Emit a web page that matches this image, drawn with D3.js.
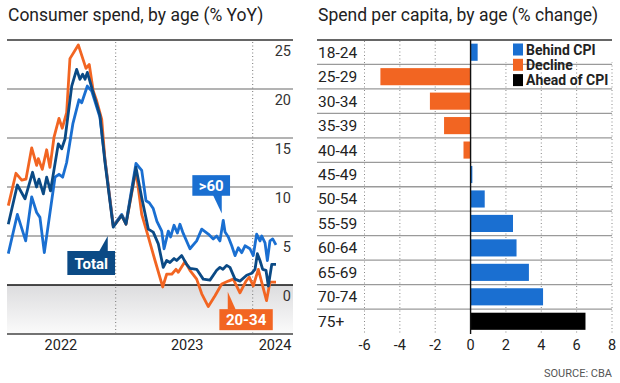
<!DOCTYPE html>
<html><head><meta charset="utf-8">
<script src="https://cdn.jsdelivr.net/npm/d3@7"></script>
<style>body{margin:0;background:#fff}svg{display:block}text{font-family:Roboto,"Noto Sans",sans-serif}</style>
</head><body><svg id="c" width="620" height="383"></svg>
<script>
// ---------- LEFT CHART DATA (time in decimal years, % YoY) ----------
const olderT = [2022.216,2022.282,2022.343,2022.387,2022.423,2022.447,2022.479,2022.557,2022.586,2022.613,2022.642,2022.688,2022.732,2022.752,2022.793,2022.825,2022.885,2022.922,2022.982,2023.007,2023.044,2023.075,2023.148,2023.190,2023.221,2023.245,2023.274,2023.301,2023.336,2023.353,2023.384,2023.401,2023.426,2023.450,2023.469,2023.489,2023.542,2023.591,2023.628,2023.676,2023.712,2023.737,2023.761,2023.785,2023.798,2023.822,2023.847,2023.871,2023.895,2023.920,2023.944,2023.980,2024.004,2024.029,2024.053,2024.066,2024.090,2024.107,2024.126,2024.146,2024.170];
const olderV = [3.2,7.2,4.5,9.0,7.4,6.9,3.3,11.0,11.3,11.0,12.5,16.5,18.9,18.6,20.3,19.8,17.1,12.8,6.1,6.5,7.2,6.3,12.4,11.7,8.6,8.4,7.8,6.5,5.5,3.7,5.5,4.9,6.1,5.3,6.2,5.4,3.7,4.5,5.7,5.2,4.7,5.0,4.5,6.6,5.4,4.9,4.0,3.0,3.8,3.3,4.0,3.7,3.0,5.2,4.5,5.0,4.3,2.5,4.5,4.7,4.1];

const youngT = [2022.216,2022.272,2022.314,2022.345,2022.387,2022.423,2022.435,2022.464,2022.496,2022.520,2022.550,2022.586,2022.610,2022.642,2022.666,2022.727,2022.783,2022.807,2022.836,2022.861,2022.898,2022.922,2022.982,2023.007,2023.044,2023.075,2023.148,2023.190,2023.238,2023.287,2023.343,2023.372,2023.409,2023.440,2023.457,2023.506,2023.542,2023.591,2023.628,2023.676,2023.725,2023.774,2023.822,2023.858,2023.907,2023.951,2023.975,2024.004,2024.041,2024.101,2024.126,2024.170];
const youngV = [8.1,11.4,10.7,10.8,14.0,12.2,12.9,11.8,13.8,12.0,15.1,17.0,16.0,17.6,23.1,24.5,22.1,22.5,19.8,18.8,16.9,12.7,6.0,6.4,7.1,6.2,11.7,7.2,4.9,2.5,-0.2,1.1,1.1,1.6,1.3,2.4,1.5,0.6,-0.9,-2.2,-1.1,0.1,0.4,0.6,-0.8,0.4,0.8,-0.1,1.6,-1.6,0.3,0.3];

const totalT = [2022.216,2022.282,2022.338,2022.393,2022.422,2022.440,2022.472,2022.496,2022.524,2022.581,2022.606,2022.630,2022.679,2022.715,2022.739,2022.759,2022.776,2022.793,2022.832,2022.885,2022.922,2022.982,2023.007,2023.044,2023.075,2023.148,2023.190,2023.238,2023.274,2023.311,2023.347,2023.372,2023.396,2023.426,2023.445,2023.482,2023.518,2023.542,2023.591,2023.639,2023.688,2023.737,2023.761,2023.783,2023.810,2023.834,2023.871,2023.907,2023.956,2023.993,2024.017,2024.034,2024.053,2024.073,2024.097,2024.114,2024.139,2024.170];
const totalV = [6.2,10.2,8.8,11.5,10.0,10.8,9.3,11.0,9.6,14.4,13.9,14.9,20.3,22.0,21.0,21.5,21.0,21.7,19.8,17.3,12.5,5.9,6.4,7.1,6.2,12.0,8.9,5.7,5.4,4.2,1.8,2.5,2.3,2.7,2.5,3.0,2.1,1.7,1.6,0.6,0.5,1.5,1.8,1.6,2.0,1.8,0.6,0.4,1.0,1.2,1.6,3.2,2.5,1.6,1.5,-0.1,2.1,2.1];

const yTicks = [0,5,10,15,20,25];
const yearBreaks = [2023,2024];
const yearLabels = ["2022","2023","2024"];
const seriesNames = [">60","Total","20-34"];

// ---------- RIGHT CHART DATA ----------
const ageGroups = ["18-24","25-29","30-34","35-39","40-44","45-49","50-54","55-59","60-64","65-69","70-74","75+"];
const perCapita = [0.4,-5.1,-2.3,-1.5,-0.4,0.1,0.8,2.4,2.6,3.3,4.1,6.5];
const status = ["Behind CPI","Decline","Decline","Decline","Decline","Behind CPI","Behind CPI","Behind CPI","Behind CPI","Behind CPI","Behind CPI","Ahead of CPI"];
const legendKeys = ["Behind CPI","Decline","Ahead of CPI"];
const xTicks = [-6,-4,-2,0,2,4,6,8];

// ---------- STYLE ----------
const C_BLUE = "#1a6fd1", C_NAVY = "#0b4a85", C_ORANGE = "#f26522", C_BLACK = "#000";
const statusColor = d3.scaleOrdinal().domain(legendKeys).range([C_BLUE, C_ORANGE, C_BLACK]);

const svg = d3.select("#c");
const defs = svg.append("defs");
const grad = defs.append("linearGradient").attr("id","neg").attr("x1",0).attr("x2",0).attr("y1",0).attr("y2",1);
grad.append("stop").attr("offset","0%").attr("stop-color","#dcdcde");
grad.append("stop").attr("offset","100%").attr("stop-color","#fbfbfb");

// titles
svg.append("text").attr("x",8).attr("y",21).attr("font-size",17.5).attr("fill","#222").text("Consumer spend, by age (% YoY)");
svg.append("text").attr("x",318).attr("y",21).attr("font-size",17.5).attr("fill","#222").text("Spend per capita, by age (% change)");

// ---------- LEFT CHART ----------
const LX0 = 7, LX1 = 293;
const x = d3.scaleLinear().domain([2022.2, 2024.28]).range([6.1, 291.06]);
const y = d3.scaleLinear().domain([-5, 25]).range([334, 40]);
const gL = svg.append("g");

gL.append("rect").attr("x",LX0).attr("width",LX1-LX0).attr("y",y(0)).attr("height",y(-5)-y(0)).attr("fill","url(#neg)");

yTicks.forEach(v => {
  const top = v === 25, zero = v === 0;
  gL.append("line").attr("x1",LX0).attr("x2",LX1).attr("y1",y(v)).attr("y2",y(v))
    .attr("stroke", zero ? "#111" : top ? "#666" : "#9a9a9a")
    .attr("stroke-width", top ? 2 : zero ? 1.4 : 1.3);
  gL.append("text").attr("x",291).attr("y",y(v)+16).attr("text-anchor","end")
    .attr("font-size",14.5).attr("fill","#333").text(v);
});
gL.append("line").attr("x1",LX0).attr("x2",LX1).attr("y1",y(-5)).attr("y2",y(-5)).attr("stroke","#444").attr("stroke-width",1.6);

yearBreaks.forEach(t => {
  gL.append("line").attr("x1",x(t)).attr("x2",x(t)).attr("y1",y(25)+2).attr("y2",y(-5))
    .attr("stroke","#777").attr("stroke-width",1).attr("stroke-dasharray","1,2.5");
});
const dom = x.domain();
const bounds = [dom[0], ...yearBreaks, dom[1]];
yearLabels.forEach((lab,i) => {
  let cx = x((bounds[i]+bounds[i+1])/2);
  if (i === 1) cx += 3;
  if (i === yearLabels.length-1) cx = Math.min(cx + 4, 292 - 17);
  gL.append("text").attr("x",cx).attr("y",350).attr("text-anchor","middle")
    .attr("font-size",14.5).attr("fill","#222").text(lab);
});

const line = d3.line().x(d=>x(d[0])).y(d=>y(d[1]));
const series = [
  {t: olderT, v: olderV, c: C_BLUE},
  {t: youngT, v: youngV, c: C_ORANGE},
  {t: totalT, v: totalV, c: C_NAVY}
];
series.forEach(s => {
  gL.append("path").datum(d3.zip(s.t, s.v)).attr("d", line).attr("fill","none")
    .attr("stroke", s.c).attr("stroke-width",2.8).attr("stroke-linejoin","round");
});

// annotation callouts anchored at data positions
function callout(name, t, v, color, box, tri, tx, ty) {
  const px = x(t), py = y(v);
  const g = gL.append("g").attr("transform",`translate(${px},${py})`);
  g.append("path").attr("d", d3.line()(tri)).attr("fill", color);
  g.append("rect").attr("x",box[0]).attr("y",box[1]).attr("width",box[2]).attr("height",box[3]).attr("fill",color);
  g.append("text").attr("x",tx).attr("y",ty).attr("text-anchor","middle").attr("font-size",15)
    .attr("font-weight","bold").attr("fill","#fff").text(name);
}
callout(seriesNames[0], 2023.774, 7.3, C_BLUE, [-29.4,-38.3,37.7,20.6], [[0,0],[-9,-19],[0,-19]], -10.5, -22.5);
callout(seriesNames[1], 2022.942, 5.0, C_NAVY, [-40.4,15,47.7,24], [[0,0],[0,16],[-9,16]], -16.5, 32.5);
callout(seriesNames[2], 2023.818, -0.7, C_ORANGE, [-8.4,17.3,53.4,21], [[0,0],[0,18],[8,18]], 18.3, 33.3);

// ---------- RIGHT CHART ----------
const RX0 = 317, RX1 = 612;
const xr = d3.scaleLinear().domain([-6, 8]).range([364.5, 612]);
const rows = d3.scaleBand().domain(ageGroups).range([40, 333.5]).padding(0);
const bars = d3.scaleBand().domain(ageGroups).range([40, 333.5]).paddingInner(0.3).paddingOuter(0.15);
const gR = svg.append("g");

xTicks.forEach(v => {
  if (v === 0) return;
  gR.append("line").attr("x1",xr(v)).attr("x2",xr(v)).attr("y1",41).attr("y2",335)
    .attr("stroke","#888").attr("stroke-width",1).attr("stroke-dasharray","1,2.5");
});
ageGroups.forEach((a,i) => {
  if (i === 0) return;
  gR.append("line").attr("x1",RX0).attr("x2",RX1).attr("y1",rows(a)).attr("y2",rows(a))
    .attr("stroke","#9a9a9a").attr("stroke-width",1.3);
});
gR.append("line").attr("x1",RX0).attr("x2",RX1).attr("y1",40).attr("y2",40).attr("stroke","#666").attr("stroke-width",2);

// legend backdrop
gR.append("rect").attr("x",xr(0)+1.5).attr("y",41).attr("width",RX1-xr(0)).attr("height",rows(ageGroups[1])-43).attr("fill","#fff");
const leg = gR.append("g");
legendKeys.forEach((k,i) => {
  const cy = 49.5 + i*15.3;
  leg.append("rect").attr("x",513).attr("y",cy-6).attr("width",10).attr("height",12).attr("fill",statusColor(k));
  leg.append("text").attr("x",526).attr("y",cy+5).attr("font-size",14).attr("font-weight","bold")
    .attr("fill","#222").text(k);
});

// bars
gR.selectAll("rect.bar").data(ageGroups).enter().append("rect").attr("class","bar")
  .attr("x",(d,i)=>xr(Math.min(0,perCapita[i])))
  .attr("width",(d,i)=>Math.abs(xr(perCapita[i])-xr(0)))
  .attr("y",d=>bars(d)).attr("height",bars.bandwidth())
  .attr("fill",(d,i)=>statusColor(status[i]));

gR.append("line").attr("x1",xr(0)).attr("x2",xr(0)).attr("y1",40).attr("y2",334).attr("stroke","#111").attr("stroke-width",1.4);

ageGroups.forEach(a => {
  gR.append("text").attr("x",318).attr("y",rows(a)+rows.bandwidth()/2+5.5).attr("font-size",15.5)
    .attr("fill","#222").text(a);
});
xTicks.forEach(v => {
  gR.append("text").attr("x",xr(v)).attr("y",350).attr("text-anchor","middle").attr("font-size",14.5)
    .attr("fill","#222").text(v);
});
svg.append("text").attr("x",612).attr("y",377).attr("text-anchor","end").attr("font-size",11)
  .attr("fill","#555").text("SOURCE: CBA");
</script>
</body></html>
